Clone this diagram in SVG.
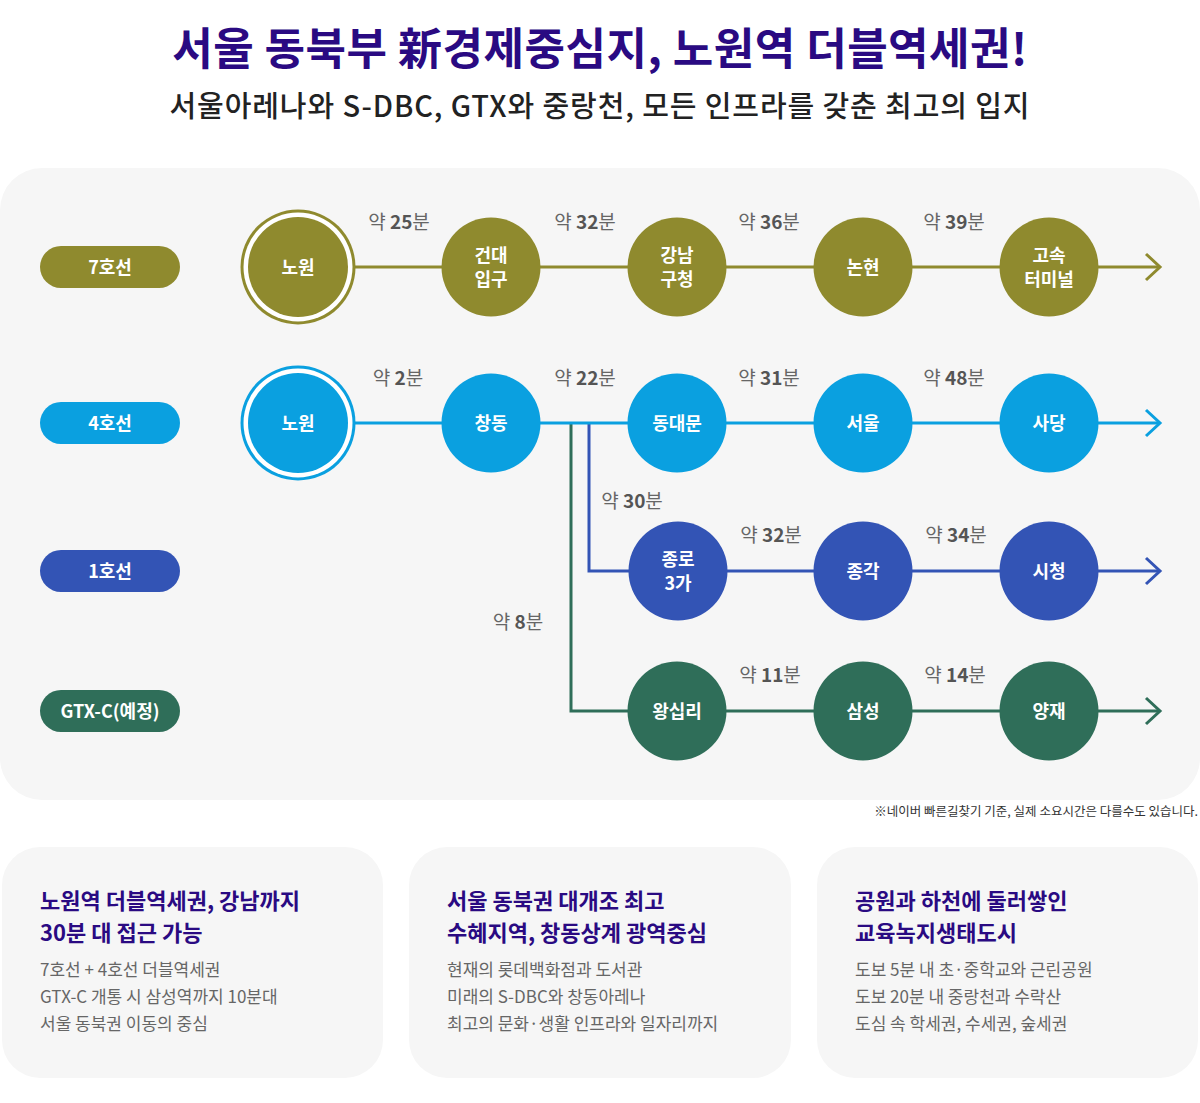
<svg xmlns="http://www.w3.org/2000/svg" width="1200" height="1103" viewBox="0 0 1200 1103">
<defs>
<style>
text{font-family:"Noto Sans CJK KR","Noto Sans",sans-serif}
.title{font-size:44px;font-weight:700;fill:#2a0a82;letter-spacing:0.5px}
.sub{font-size:29px;font-weight:500;fill:#222;letter-spacing:0.9px}
.pill{font-size:18px;font-weight:700;fill:#fff}
.st{font-size:18px;font-weight:700;fill:#fff}
.tm{font-size:19px;fill:#666}
.tm tspan{font-weight:700;fill:#555}
.ln{fill:none;stroke-width:3;stroke-linejoin:miter}
.note{font-size:12.5px;fill:#333}
.ct{font-size:22px;font-weight:700;fill:#2a0a82}
.cb{font-size:17px;fill:#666}
.panel{fill:#f6f6f6}
</style>
<marker id="aOl" viewBox="0 0 20 30" refX="17" refY="15" markerWidth="20" markerHeight="30" markerUnits="userSpaceOnUse" orient="auto"><path d="M3,2 L17,15 L3,28" fill="none" stroke="#8f8a2e" stroke-width="3"/></marker>
<marker id="aCy" viewBox="0 0 20 30" refX="17" refY="15" markerWidth="20" markerHeight="30" markerUnits="userSpaceOnUse" orient="auto"><path d="M3,2 L17,15 L3,28" fill="none" stroke="#0aa0e0" stroke-width="3"/></marker>
<marker id="aBl" viewBox="0 0 20 30" refX="17" refY="15" markerWidth="20" markerHeight="30" markerUnits="userSpaceOnUse" orient="auto"><path d="M3,2 L17,15 L3,28" fill="none" stroke="#3354b5" stroke-width="3"/></marker>
<marker id="aGr" viewBox="0 0 20 30" refX="17" refY="15" markerWidth="20" markerHeight="30" markerUnits="userSpaceOnUse" orient="auto"><path d="M3,2 L17,15 L3,28" fill="none" stroke="#2f6e59" stroke-width="3"/></marker>
</defs>
<rect width="1200" height="1103" fill="#fff"/>
<g id="header">
<text class="title" x="600" y="65" text-anchor="middle">서울 동북부 新경제중심지, 노원역 더블역세권!</text>
<text class="sub" x="600" y="117" text-anchor="middle">서울아레나와 S-DBC, GTX와 중랑천, 모든 인프라를 갖춘 최고의 입지</text>
</g>
<rect id="map-panel" class="panel" x="0" y="168" width="1200" height="632" rx="42"/>
<g id="connectors">
<path class="ln" stroke="#2f6e59" d="M571,423 V711 H1160" marker-end="url(#aGr)"/>
<path class="ln" stroke="#3354b5" d="M589,423 V571 H1160" marker-end="url(#aBl)"/>
<path class="ln" stroke="#0aa0e0" d="M298,423 H1160" marker-end="url(#aCy)"/>
<path class="ln" stroke="#8f8a2e" d="M298,267 H1160" marker-end="url(#aOl)"/>
</g>
<g id="line-labels">
<g id="pill-7"><rect x="40" y="246" width="140" height="42" rx="21" fill="#8f8a2e"/><text class="pill" x="110" y="274" text-anchor="middle">7호선</text></g>
<g id="pill-4"><rect x="40" y="402" width="140" height="42" rx="21" fill="#0aa0e0"/><text class="pill" x="110" y="430" text-anchor="middle">4호선</text></g>
<g id="pill-1"><rect x="40" y="550" width="140" height="42" rx="21" fill="#3354b5"/><text class="pill" x="110" y="578" text-anchor="middle">1호선</text></g>
<g id="pill-gtx"><rect x="40" y="690" width="140" height="42" rx="21" fill="#2f6e59"/><text class="pill" x="110" y="718" text-anchor="middle">GTX-C(예정)</text></g>
</g>
<g id="stations-7">
<g id="s7-nowon"><circle cx="298" cy="267" r="57.5" fill="#8f8a2e"/><circle cx="298" cy="267" r="54.5" fill="#fff"/><circle cx="298" cy="267" r="50" fill="#8f8a2e"/><text class="st" x="298" y="274" text-anchor="middle">노원</text></g>
<g id="s7-kondae"><circle cx="491" cy="267" r="49.5" fill="#8f8a2e"/><text class="st" x="491" y="262" text-anchor="middle">건대</text><text class="st" x="491" y="286" text-anchor="middle">입구</text></g>
<g id="s7-gangnamgu"><circle cx="677" cy="267" r="49.5" fill="#8f8a2e"/><text class="st" x="677" y="262" text-anchor="middle">강남</text><text class="st" x="677" y="286" text-anchor="middle">구청</text></g>
<g id="s7-nonhyeon"><circle cx="863" cy="267" r="49.5" fill="#8f8a2e"/><text class="st" x="863" y="274" text-anchor="middle">논현</text></g>
<g id="s7-terminal"><circle cx="1049" cy="267" r="49.5" fill="#8f8a2e"/><text class="st" x="1049" y="262" text-anchor="middle">고속</text><text class="st" x="1049" y="286" text-anchor="middle">터미널</text></g>
</g>
<g id="stations-4">
<g id="s4-nowon"><circle cx="298" cy="423" r="57.5" fill="#0aa0e0"/><circle cx="298" cy="423" r="54.5" fill="#fff"/><circle cx="298" cy="423" r="50" fill="#0aa0e0"/><text class="st" x="298" y="430" text-anchor="middle">노원</text></g>
<g id="s4-changdong"><circle cx="491" cy="423" r="49.5" fill="#0aa0e0"/><text class="st" x="491" y="430" text-anchor="middle">창동</text></g>
<g id="s4-dongdaemun"><circle cx="677" cy="423" r="49.5" fill="#0aa0e0"/><text class="st" x="677" y="430" text-anchor="middle">동대문</text></g>
<g id="s4-seoul"><circle cx="863" cy="423" r="49.5" fill="#0aa0e0"/><text class="st" x="863" y="430" text-anchor="middle">서울</text></g>
<g id="s4-sadang"><circle cx="1049" cy="423" r="49.5" fill="#0aa0e0"/><text class="st" x="1049" y="430" text-anchor="middle">사당</text></g>
</g>
<g id="stations-1">
<g id="s1-jongno3"><circle cx="678" cy="571" r="49.5" fill="#3354b5"/><text class="st" x="678" y="566" text-anchor="middle">종로</text><text class="st" x="678" y="590" text-anchor="middle">3가</text></g>
<g id="s1-jonggak"><circle cx="863" cy="571" r="49.5" fill="#3354b5"/><text class="st" x="863" y="578" text-anchor="middle">종각</text></g>
<g id="s1-cityhall"><circle cx="1049" cy="571" r="49.5" fill="#3354b5"/><text class="st" x="1049" y="578" text-anchor="middle">시청</text></g>
</g>
<g id="stations-gtx">
<g id="sg-wangsimni"><circle cx="677" cy="711" r="49.5" fill="#2f6e59"/><text class="st" x="677" y="718" text-anchor="middle">왕십리</text></g>
<g id="sg-samseong"><circle cx="863" cy="711" r="49.5" fill="#2f6e59"/><text class="st" x="863" y="718" text-anchor="middle">삼성</text></g>
<g id="sg-yangjae"><circle cx="1049" cy="711" r="49.5" fill="#2f6e59"/><text class="st" x="1049" y="718" text-anchor="middle">양재</text></g>
</g>
<g id="times" text-anchor="middle">
<text class="tm" x="399" y="229">약 <tspan>25</tspan>분</text>
<text class="tm" x="585" y="229">약 <tspan>32</tspan>분</text>
<text class="tm" x="769" y="229">약 <tspan>36</tspan>분</text>
<text class="tm" x="954" y="229">약 <tspan>39</tspan>분</text>
<text class="tm" x="398" y="385">약 <tspan>2</tspan>분</text>
<text class="tm" x="585" y="385">약 <tspan>22</tspan>분</text>
<text class="tm" x="769" y="385">약 <tspan>31</tspan>분</text>
<text class="tm" x="954" y="385">약 <tspan>48</tspan>분</text>
<text class="tm" x="632" y="508">약 <tspan>30</tspan>분</text>
<text class="tm" x="771" y="542">약 <tspan>32</tspan>분</text>
<text class="tm" x="956" y="542">약 <tspan>34</tspan>분</text>
<text class="tm" x="518" y="629">약 <tspan>8</tspan>분</text>
<text class="tm" x="770" y="682">약 <tspan>11</tspan>분</text>
<text class="tm" x="955" y="682">약 <tspan>14</tspan>분</text>
</g>
<text class="note" x="1198" y="816" text-anchor="end">※네이버 빠른길찾기 기준, 실제 소요시간은 다를수도 있습니다.</text>
<g id="card-1">
<rect class="panel" x="2" y="847" width="381" height="231" rx="38"/>
<text class="ct" x="40" y="909">노원역 더블역세권, 강남까지</text>
<text class="ct" x="40" y="941">30분 대 접근 가능</text>
<text class="cb" x="40" y="976">7호선 + 4호선 더블역세권</text>
<text class="cb" x="40" y="1003">GTX-C 개통 시 삼성역까지 10분대</text>
<text class="cb" x="40" y="1030">서울 동북권 이동의 중심</text>
</g>
<g id="card-2">
<rect class="panel" x="409" y="847" width="382" height="231" rx="38"/>
<text class="ct" x="447" y="909">서울 동북권 대개조 최고</text>
<text class="ct" x="447" y="941">수혜지역, 창동상계 광역중심</text>
<text class="cb" x="447" y="976">현재의 롯데백화점과 도서관</text>
<text class="cb" x="447" y="1003">미래의 S-DBC와 창동아레나</text>
<text class="cb" x="447" y="1030">최고의 문화·생활 인프라와 일자리까지</text>
</g>
<g id="card-3">
<rect class="panel" x="817" y="847" width="381" height="231" rx="38"/>
<text class="ct" x="855" y="909">공원과 하천에 둘러쌓인</text>
<text class="ct" x="855" y="941">교육녹지생태도시</text>
<text class="cb" x="855" y="976">도보 5분 내 초·중학교와 근린공원</text>
<text class="cb" x="855" y="1003">도보 20분 내 중랑천과 수락산</text>
<text class="cb" x="855" y="1030">도심 속 학세권, 수세권, 숲세권</text>
</g>
</svg>
